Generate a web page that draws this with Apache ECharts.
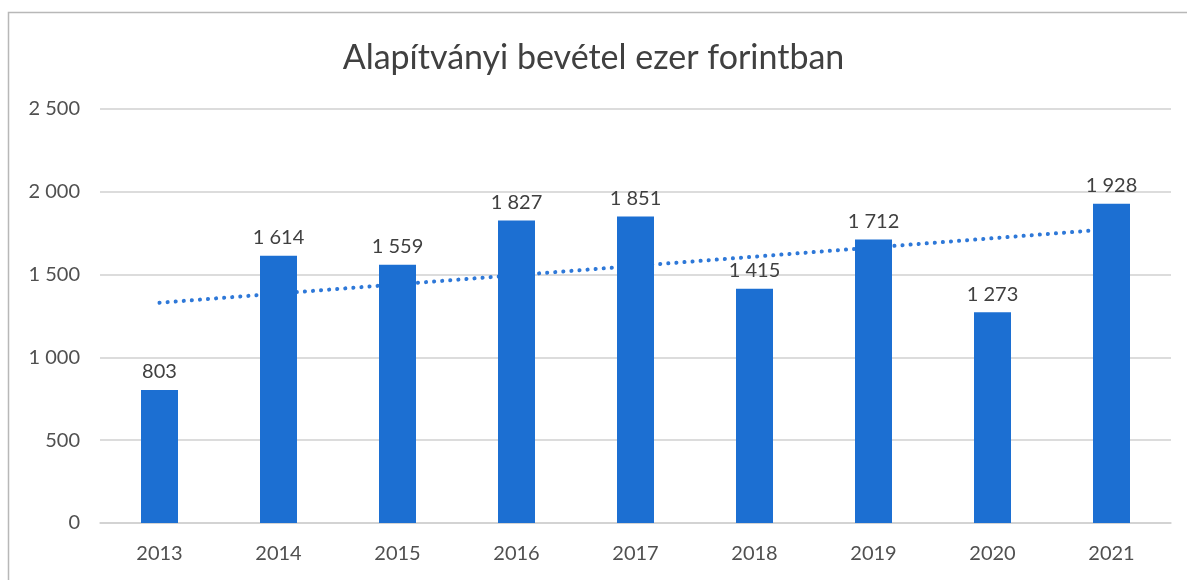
<!DOCTYPE html>
<html>
<head>
<meta charset="utf-8">
<script src="https://cdn.jsdelivr.net/npm/echarts@6/dist/echarts.min.js"></script>
<style>
  html, body { margin: 0; padding: 0; background: #fff; }
  #chart { width: 1187px; height: 580px; }
</style>
</head>
<body>
<div id="chart"></div>
<script>
    // adatok a képről
    const years = ['2013', '2014', '2015', '2016', '2017', '2018', '2019', '2020', '2021'];
    const income = [803, 1614, 1559, 1827, 1851, 1415, 1712, 1273, 1928];
    // lineáris trendvonal végpontjai (leolvasva)
    const trend = [1330, null, null, null, null, null, null, null, 1775];
    const yTicks = [0, 500, 1000, 1500, 2000, 2500];

    const fmt = v => String(v).replace(/\B(?=(\d{3})+(?!\d))/g, ' ');
    const font = 'Lato, "Open Sans", sans-serif';

    const myChart = echarts.init(document.getElementById('chart'));

    const option = {
        backgroundColor: '#fff',
        animation: false,
        title: {
            text: 'Alapítványi bevétel ezer forintban',
            left: 'center',
            top: 36,
            textStyle: { fontFamily: font, fontSize: 34, fontWeight: 'normal', color: '#404040' }
        },
        graphic: [{
            type: 'rect',
            shape: { x: 8.5, y: 12.5, width: 1190, height: 600 },
            style: { fill: null, stroke: '#b8b8b8', lineWidth: 1.5 },
            silent: true
        }],
        grid: { left: 100, right: 16, top: 109, bottom: 57 },
        xAxis: {
            type: 'category',
            data: years,
            axisTick: { show: false },
            axisLine: { lineStyle: { color: '#d0d0d0', width: 1.5 } },
            axisLabel: { color: '#505050', fontFamily: font, fontSize: 20, margin: 21 }
        },
        yAxis: {
            type: 'value',
            min: yTicks[0],
            max: yTicks[yTicks.length - 1],
            interval: 500,
            axisLine: { show: false },
            axisTick: { show: false },
            splitLine: { lineStyle: { color: '#d0d0d0', width: 1.5 } },
            axisLabel: { color: '#505050', fontFamily: font, fontSize: 20, margin: 20, formatter: fmt }
        },
        series: [{
            type: 'bar',
            data: income,
            barWidth: 37,
            z: 3,
            itemStyle: { color: '#1c6fd2' },
            label: {
                show: true,
                position: 'top',
                distance: 8,
                color: '#404040',
                fontFamily: font,
                fontSize: 20,
                formatter: p => fmt(p.value)
            }
        }, {
            type: 'line',
            data: trend,
            connectNulls: true,
            symbol: 'none',
            z: 1,
            lineStyle: { color: '#2e78d8', width: 4, type: [0.1, 8], cap: 'round' }
        }]
    };

    myChart.setOption(option);
</script>
</body>
</html>
